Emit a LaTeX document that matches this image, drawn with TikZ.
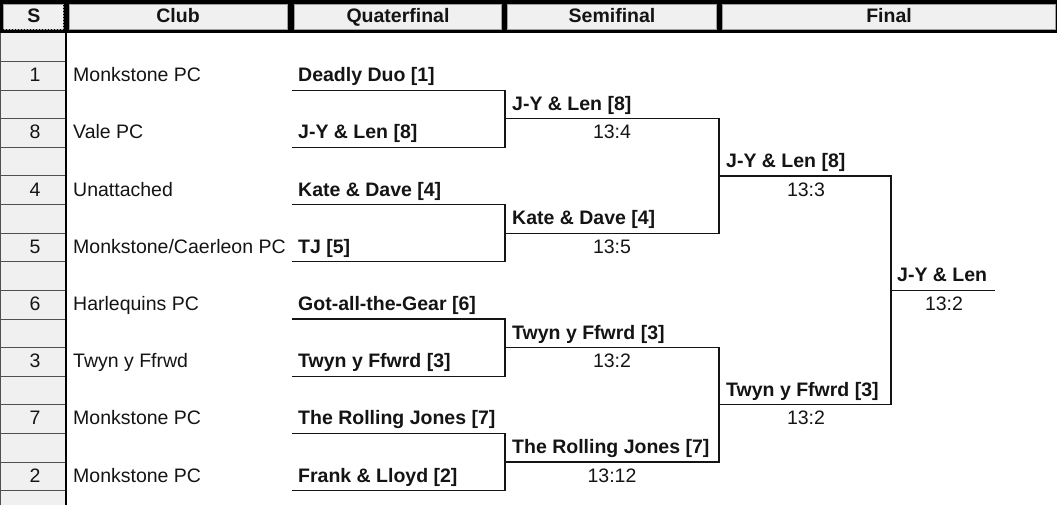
\documentclass[tikz,border=0pt]{standalone}
\usepackage{fontspec}
\setmainfont{Liberation Sans}
\definecolor{cellgray}{HTML}{F0F0F0}
\definecolor{cellrule}{HTML}{A0A0A0}
\definecolor{gridc}{HTML}{505050}
\definecolor{ink}{HTML}{141414}
\tikzset{
  txt/.style={inner sep=0pt, anchor=base west, font=\fontsize{19.5}{20}\selectfont, text=ink},
  bld/.style={inner sep=0pt, anchor=base west, font=\fontsize{19.5}{20}\selectfont\bfseries, text=ink},
  ctr/.style={inner sep=0pt, anchor=base, font=\fontsize{19.5}{20}\selectfont, text=ink},
  hdr/.style={fill=cellgray, draw=cellrule, line width=0.8pt},
  hdrtxt/.style={inner sep=0pt, anchor=base, font=\fontsize{19.5}{20}\selectfont\bfseries, text=ink},
  bracket/.style={draw=ink, line width=1.2pt, line join=miter},
  grid/.style={draw=gridc, line width=1pt},
}
\begin{document}
\begin{tikzpicture}[x=1pt,y=-1pt]
\useasboundingbox (0,0) rectangle (1057,505);
\fill[white] (0,0) rectangle (1057,505);
% ---- header band
\fill[black] (0,0) rectangle (1057,33);
\draw[hdr] (3,4) rectangle (63,29.5);
\draw[black, dotted, line width=1pt] (2.5,3.5) rectangle (63.5,30);
\draw[hdr] (69,4) rectangle (287.5,29.5);
\draw[hdr] (294,4) rectangle (501.5,29.5);
\draw[hdr] (507.5,4) rectangle (716,29.5);
\draw[hdr] (722,4) rectangle (1055,29.5);
\node[hdrtxt] (hS)  at (34,23) {S};
\node[hdrtxt] (hC)  at (178,23) {Club};
\node[hdrtxt] (hQ)  at (398,23) {Quaterfinal};
\node[hdrtxt] (hSF) at (612,23) {Semifinal};
\node[hdrtxt] (hF)  at (889,23) {Final};
% ---- seed column
\fill[cellgray] (0,33) rectangle (66,505);
\foreach \k in {1,...,16}{
  \draw[grid] (0,33+28.6*\k) -- (66,33+28.6*\k);
}
\draw[gridc, line width=1.2pt] (0.6,33) -- (0.6,505);
\draw[black, line width=2pt] (66,33) -- (66,505);
% ---- seeds and clubs
\node[ctr] (s1) at (35,81.7)  {1};
\node[ctr] (s8) at (35,138.9) {8};
\node[ctr] (s4) at (35,196.1) {4};
\node[ctr] (s5) at (35,253.3) {5};
\node[ctr] (s6) at (35,310.5) {6};
\node[ctr] (s3) at (35,367.7) {3};
\node[ctr] (s7) at (35,424.9) {7};
\node[ctr] (s2) at (35,482.1) {2};
\node[txt] (c1) at (73,81.7)  {Monkstone PC};
\node[txt] (c8) at (73,138.9) {Vale PC};
\node[txt] (c4) at (73,196.1) {Unattached};
\node[txt] (c5) at (73,253.3) {Monkstone/Caerleon PC};
\node[txt] (c6) at (73,310.5) {Harlequins PC};
\node[txt] (c3) at (73,367.7) {Twyn y Ffrwd};
\node[txt] (c7) at (73,424.9) {Monkstone PC};
\node[txt] (c2) at (73,482.1) {Monkstone PC};
% ---- quarterfinal entries
\node[bld] (q1) at (298,81.7)  {Deadly Duo [1]};
\node[bld] (q2) at (298,138.9) {J-Y \& Len [8]};
\node[bld] (q3) at (298,196.1) {Kate \& Dave [4]};
\node[bld] (q4) at (298,253.3) {TJ [5]};
\node[bld] (q5) at (298,310.5) {Got-all-the-Gear [6]};
\node[bld] (q6) at (298,367.7) {Twyn y Ffwrd [3]};
\node[bld] (q7) at (298,424.9) {The Rolling Jones [7]};
\node[bld] (q8) at (298,482.1) {Frank \& Lloyd [2]};
% ---- semifinal entries
\node[bld] (sf1) at (512,110.3) {J-Y \& Len [8]};
\node[ctr] (ss1) at (612,138.9) {13:4};
\node[bld] (sf2) at (512,224.7) {Kate \& Dave [4]};
\node[ctr] (ss2) at (612,253.3) {13:5};
\node[bld] (sf3) at (512,339.1) {Twyn y Ffwrd [3]};
\node[ctr] (ss3) at (612,367.7) {13:2};
\node[bld] (sf4) at (512,453.5) {The Rolling Jones [7]};
\node[ctr] (ss4) at (612,482.1) {13:12};
% ---- final entries
\node[bld] (f1) at (726,167.5) {J-Y \& Len [8]};
\node[ctr] (fs1) at (806,196.1) {13:3};
\node[bld] (f2) at (726,396.3) {Twyn y Ffwrd [3]};
\node[ctr] (fs2) at (806,424.9) {13:2};
% ---- winner
\node[bld] (w) at (897,281.7) {J-Y \& Len};
\node[ctr] (ws) at (944,310.5) {13:2};
% ---- bracket coordinates
\coordinate (qa1) at (292,90.2);  \coordinate (qb1) at (505,90.2);
\coordinate (qa2) at (292,147.4); \coordinate (qb2) at (505,147.4);
\coordinate (qa3) at (292,204.6); \coordinate (qb3) at (505,204.6);
\coordinate (qa4) at (292,261.8); \coordinate (qb4) at (505,261.8);
\coordinate (qa5) at (292,319);   \coordinate (qb5) at (505,319);
\coordinate (qa6) at (292,376.2); \coordinate (qb6) at (505,376.2);
\coordinate (qa7) at (292,433.4); \coordinate (qb7) at (505,433.4);
\coordinate (qa8) at (292,490.6); \coordinate (qb8) at (505,490.6);
\coordinate (sa1) at (505,118.8); \coordinate (sb1) at (719,118.8);
\coordinate (sa2) at (505,233.2); \coordinate (sb2) at (719,233.2);
\coordinate (sa3) at (505,347.6); \coordinate (sb3) at (719,347.6);
\coordinate (sa4) at (505,462);   \coordinate (sb4) at (719,462);
\coordinate (fa1) at (719,176);   \coordinate (fb1) at (891,176);
\coordinate (fa2) at (719,404.8); \coordinate (fb2) at (891,404.8);
\coordinate (wa) at (891,290.4);  \coordinate (wb) at (995,290.4);
% ---- bracket lines
\draw[bracket] (qa1) -- (qb1) -- (qb2) -- (qa2);
\draw[bracket] (qa3) -- (qb3) -- (qb4) -- (qa4);
\draw[bracket] (qa5) -- (qb5) -- (qb6) -- (qa6);
\draw[bracket] (qa7) -- (qb7) -- (qb8) -- (qa8);
\draw[bracket] (sa1) -- (sb1) -- (sb2) -- (sa2);
\draw[bracket] (sa3) -- (sb3) -- (sb4) -- (sa4);
\draw[bracket] (fa1) -- (fb1) -- (fb2) -- (fa2);
\draw[bracket] (wa) -- (wb);
\end{tikzpicture}
\end{document}
